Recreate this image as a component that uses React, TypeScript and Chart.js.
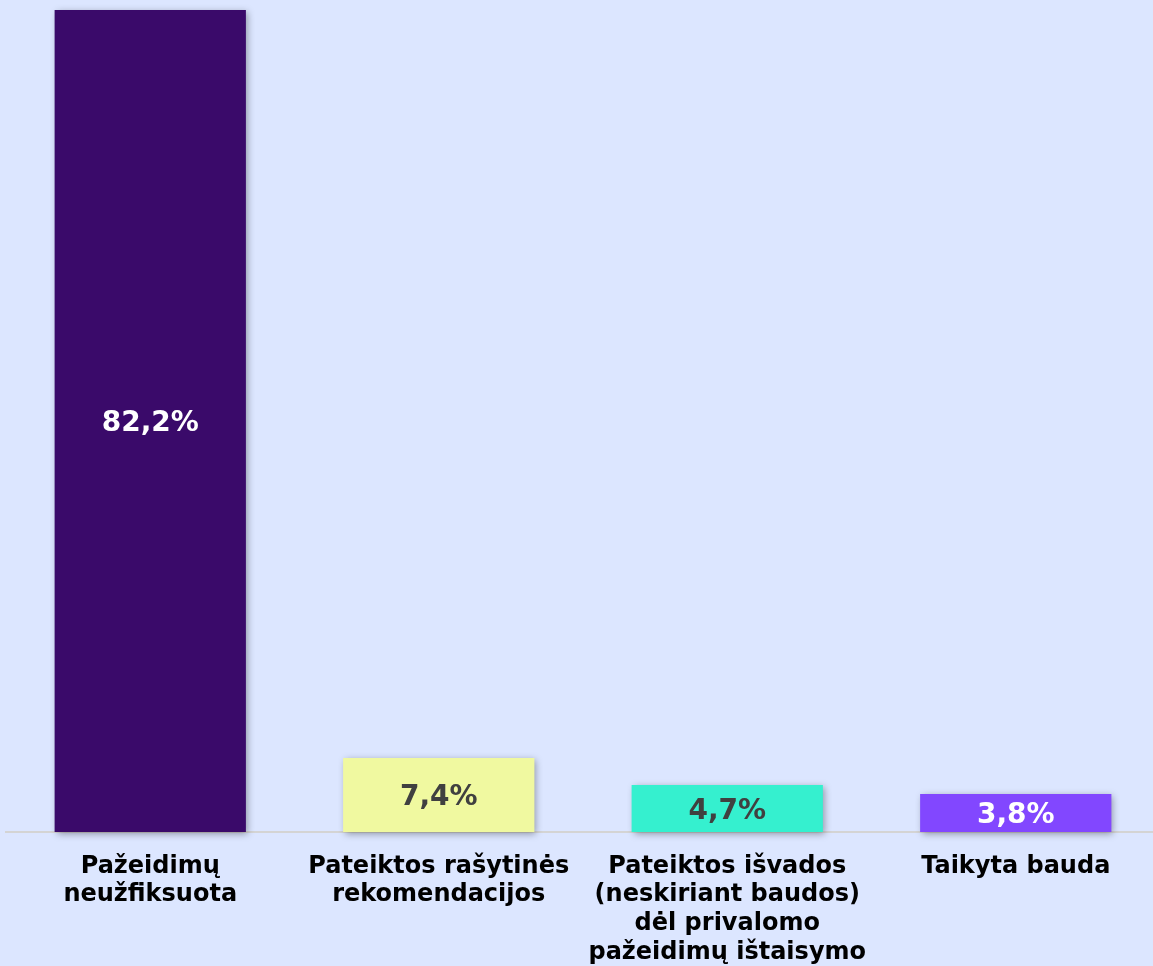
import React, { useEffect, useRef } from "react";
import { Chart, registerables } from "chart.js";

Chart.register(...registerables);

const categories: string[][] = [
  ["Pažeidimų", "neužfiksuota"],
  ["Pateiktos rašytinės", "rekomendacijos"],
  ["Pateiktos išvados", "(neskiriant baudos)", "dėl privalomo", "pažeidimų ištaisymo"],
  ["Taikyta bauda"],
];
const values: number[] = [82.2, 7.4, 4.7, 3.8];
const valueLabels: string[] = ["82,2%", "7,4%", "4,7%", "3,8%"];
const barColors: string[] = ["#3A0A6A", "#F0F9A0", "#35F0CF", "#8247FF"];
const labelColors: string[] = ["#FFFFFF", "#404040", "#404040", "#FFFFFF"];

const FONT = "'DejaVu Sans', Verdana, sans-serif";

const shadowPlugin = {
  id: "barShadow",
  beforeDatasetsDraw(chart: any) {
    const ctx = chart.ctx;
    ctx.save();
    ctx.shadowColor = "rgba(0,0,0,0.35)";
    ctx.shadowBlur = 7;
    ctx.shadowOffsetX = 2;
    ctx.shadowOffsetY = 2;
  },
  afterDatasetsDraw(chart: any) {
    chart.ctx.restore();
    const ctx = chart.ctx;
    const meta = chart.getDatasetMeta(0);
    ctx.save();
    ctx.font = `bold 28px ${FONT}`;
    ctx.textAlign = "center";
    ctx.textBaseline = "middle";
    meta.data.forEach((bar: any, i: number) => {
      const { x, y, base } = bar.getProps(["x", "y", "base"], true);
      ctx.fillStyle = labelColors[i];
      ctx.fillText(valueLabels[i], x, (y + base) / 2 + 3);
    });
    ctx.restore();
  },
};

export default function App() {
  const ref = useRef<HTMLCanvasElement | null>(null);
  useEffect(() => {
    if (!ref.current) return;
    const chart = new Chart(ref.current, {
      type: "bar",
      data: {
        labels: categories,
        datasets: [
          {
            data: values,
            backgroundColor: barColors,
            borderWidth: 0,
            barPercentage: 0.663,
            categoryPercentage: 1,
            clip: false as any,
          },
        ],
      },
      options: {
        responsive: false,
        animation: false,
        devicePixelRatio: 1,
        layout: { padding: { left: 6, right: 0, top: 10, bottom: 0 } },
        plugins: {
          legend: { display: false },
          tooltip: { enabled: false },
          title: { display: false },
        },
        scales: {
          x: {
            grid: { display: false, drawTicks: false },
            border: { display: true, color: "#D4D4D4", width: 2 },
            ticks: {
              color: "#000000",
              font: { family: FONT, size: 24, weight: "bold", lineHeight: 1.2 },
              padding: 20,
              maxRotation: 0,
              autoSkip: false,
            },
            afterFit: (s: any) => {
              s.height = 134;
            },
          },
          y: {
            display: false,
            min: 0,
            max: 82.2,
          },
        },
      },
      plugins: [shadowPlugin],
    });
    return () => chart.destroy();
  }, []);
  return (
    <div
      style={{
        position: "fixed",
        left: 0,
        top: 0,
        width: 1153,
        height: 966,
        overflow: "hidden",
        background: "#DCE6FF",
      }}
    >
      <canvas ref={ref} width={1160} height={966} style={{ width: 1160, height: 966, display: "block" }} />
    </div>
  );
}
